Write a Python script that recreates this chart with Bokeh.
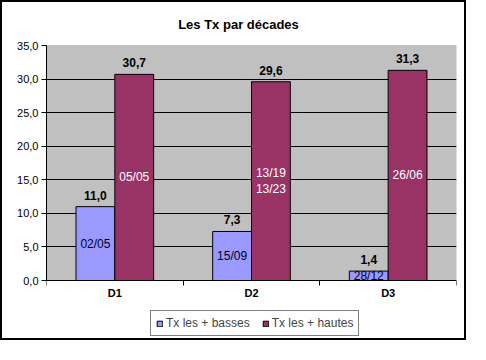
from bokeh.plotting import figure
from bokeh.models import (Range1d, FixedTicker, Legend, LegendItem, ColumnDataSource,
                          BoxAnnotation)
from bokeh.core.properties import value
from bokeh.embed import file_html
from bokeh.resources import INLINE

# ---- data ----
title_text = "Les Tx par décades"
categories = ["D1", "D2", "D3"]
tx_basses = [11.0, 7.3, 1.4]
tx_hautes = [30.7, 29.6, 31.3]
dates_basses = ["02/05", "15/09", "28/12"]
dates_hautes = ["05/05", "13/19\n13/23", "26/06"]
series_names = ["Tx les + basses", "Tx les + hautes"]
y_ticks = [0, 5, 10, 15, 20, 25, 30, 35]
y_tick_labels = ["0,0", "5,0", "10,0", "15,0", "20,0", "25,0", "30,0", "35,0"]

FONT = "Liberation Sans"
BLUE = "#9999FF"
MAROON = "#993366"
BAR_W = 0.284

n = len(categories)
centers = [i + 0.5 for i in range(n)]
y_min, y_max = y_ticks[0], y_ticks[-1]

def fmt(v):
    return f"{v:.1f}".replace(".", ",")

src_b = ColumnDataSource(dict(
    x=[c - BAR_W / 2 for c in centers], top=tx_basses,
    mid=[v / 2 for v in tx_basses], lab=[fmt(v) for v in tx_basses], date=dates_basses))
src_h = ColumnDataSource(dict(
    x=[c + BAR_W / 2 for c in centers], top=tx_hautes,
    mid=[v / 2 for v in tx_hautes], lab=[fmt(v) for v in tx_hautes], date=dates_hautes))

# layout (pixels): the frame covers title, plot area and legend
W, H = 466, 340
B_LEFT, B_RIGHT, B_TOP, B_BOTTOM = 44, 12, 0, 4
ZERO_PX = 278                       # pixel row of value 0
TOP_PX = 43                         # pixel row of the top of the value axis
frame_top = B_TOP
frame_bot = H - B_BOTTOM
per_px = (y_max - y_min) / (ZERO_PX - TOP_PX)
low = y_min - (frame_bot - ZERO_PX) * per_px
high = y_max + (TOP_PX - frame_top) * per_px

p = figure(width=W, height=H, output_backend="svg", toolbar_location=None,
           x_range=Range1d(0, n), y_range=Range1d(low, high),
           min_border_left=B_LEFT, min_border_right=B_RIGHT,
           min_border_top=B_TOP, min_border_bottom=B_BOTTOM)

p.styles = {"border": "2px solid black"}

p.background_fill_color = "white"
p.border_fill_color = "white"
p.outline_line_color = None

# grey plot area
p.add_layout(BoxAnnotation(left=0, right=n, bottom=y_min, top=y_max,
                           fill_color="#C0C0C0", fill_alpha=1,
                           line_color="#808080", line_width=1, level="image"))

# title (centred on the whole chart)
p.text(x=[n / 2], y=[y_max], text=[title_text], text_align="center",
       text_baseline="middle", x_offset=-13, y_offset=-21,
       text_font=value(FONT), text_font_size="13px", text_font_style="bold",
       text_color="black")

# grid
p.xgrid.visible = False
p.ygrid.ticker = FixedTicker(ticks=y_ticks[1:-1])
p.ygrid.grid_line_color = "black"
p.ygrid.grid_line_width = 1

# y axis
yax = p.yaxis[0]
yax.bounds = (y_min, y_max)
yax.ticker = FixedTicker(ticks=y_ticks, minor_ticks=[])
yax.major_label_overrides = {t: l for t, l in zip(y_ticks, y_tick_labels)}
yax.major_label_text_font = FONT
yax.major_label_text_font_size = "11px"
yax.major_label_text_color = "black"
yax.axis_line_color = "black"
yax.major_tick_line_color = "black"
yax.major_tick_in = 0
yax.major_tick_out = 5
yax.minor_tick_line_color = None
yax.major_label_standoff = 3

# x axis: drawn at value 0, labels at category centers, ticks at category boundaries
xax = p.xaxis[0]
xax.fixed_location = y_min
xax.ticker = FixedTicker(ticks=centers, minor_ticks=list(range(n + 1)))
xax.major_label_overrides = {c: l for c, l in zip(centers, categories)}
xax.major_label_text_font = FONT
xax.major_label_text_font_size = "11px"
xax.major_label_text_font_style = "bold"
xax.major_label_text_color = "black"
xax.axis_line_color = "black"
xax.major_tick_line_color = None
xax.minor_tick_line_color = "black"
xax.minor_tick_in = 0
xax.minor_tick_out = 5
xax.major_label_standoff = 0

rb = p.vbar(x="x", top="top", width=BAR_W, bottom=y_min, source=src_b,
            fill_color=BLUE, line_color="black", line_width=1)
rh = p.vbar(x="x", top="top", width=BAR_W, bottom=y_min, source=src_h,
            fill_color=MAROON, line_color="black", line_width=1)

# value labels above bars
for src in (src_b, src_h):
    p.text(x="x", y="top", text="lab", source=src, text_align="center",
           text_baseline="bottom", y_offset=-7, text_font=value(FONT),
           text_font_size="12px", text_font_style="bold", text_color="black")

# date labels inside bars
p.text(x="x", y="mid", text="date", source=src_b, text_align="center",
       text_baseline="middle", text_font=value(FONT), text_font_size="12px",
       text_color="#000020")
p.text(x="x", y="mid", text="date", source=src_h, text_align="center",
       text_baseline="middle", text_font=value(FONT), text_font_size="12px",
       text_color="white", text_line_height=1.1)

legend = Legend(items=[LegendItem(label=series_names[0], renderers=[rb]),
                       LegendItem(label=series_names[1], renderers=[rh])],
                orientation="horizontal", location=(104, 2),
                border_line_color="black", border_line_width=1,
                background_fill_color="white", background_fill_alpha=1,
                label_text_font=FONT, label_text_font_size="12px",
                glyph_width=7, glyph_height=7, label_standoff=3, spacing=12,
                padding=5, margin=0, label_height=12)
p.add_layout(legend, "center")

open("out.html", "w").write(file_html(p, INLINE))
